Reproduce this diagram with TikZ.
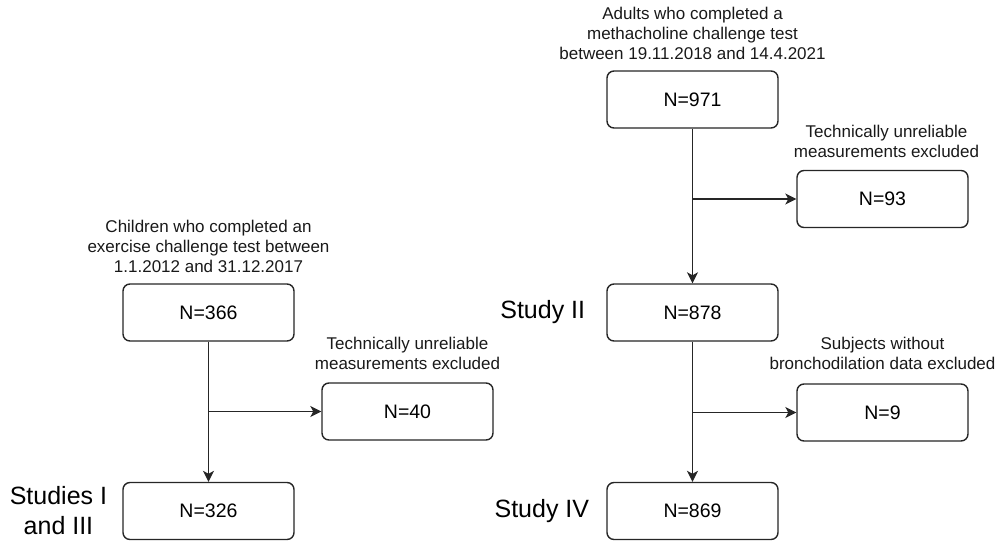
\documentclass[tikz,border=0pt]{standalone}
\usepackage{fontspec}
\setmainfont{Liberation Sans}
\usetikzlibrary{positioning,arrows.meta}

\begin{document}
\begin{tikzpicture}[x=1pt, y=-1pt,
  box/.style={draw=black!85, line width=1.4pt, rounded corners=7pt, fill=white,
    minimum width=171pt, minimum height=57pt, inner sep=0pt,
    font=\fontsize{19.5}{23}\selectfont},
  note/.style={align=center, inner sep=0pt, text=black!90, font=\fontsize{17}{20}\selectfont},
  study/.style={align=center, inner sep=0pt, font=\fontsize{25}{30}\selectfont},
  flow/.style={draw=black!85, line width=1.4pt, -{Stealth[length=11pt,width=11pt,inset=3pt]}}]
\useasboundingbox (0,0) rectangle (1001,541);

% exercise challenge (children)
\node[box] (n366) at (208.5,312.5) {N=366};
\node[box] (n40) at (407.5,411.5) {N=40};
\node[box] (n326) at (208.5,511) {N=326};
\node[note, above=10pt of n366] (capchildren) {Children who completed an\\exercise challenge test between\\1.1.2012 and 31.12.2017};
\node[note, above=12pt of n40] (capexcl1) {Technically unreliable\\measurements excluded};
\node[study, left=15pt of n326] (studyone) {Studies I\\and III};
\draw[flow] (n366) -- (n326);
\draw[flow] (n366 |- n40) -- (n40);

% methacholine challenge (adults)
\node[box] (n971) at (692.5,99.5) {N=971};
\node[box] (n93) at (882.5,199) {N=93};
\node[box] (n878) at (692.5,312.5) {N=878};
\node[box] (n9) at (882.5,412.5) {N=9};
\node[box] (n869) at (692.5,511) {N=869};
\node[note, above=10pt of n971] (capadults) {Adults who completed a\\methacholine challenge test\\between 19.11.2018 and 14.4.2021};
\node[note, above=12pt of n93, xshift=4pt] (capexcl2) {Technically unreliable\\measurements excluded};
\node[note, above=13pt of n9] (capexcl3) {Subjects without\\bronchodilation data excluded};
\node[study, left=21pt of n878] (studytwo) {Study II};
\node[study, left=17pt of n869] (studyfour) {Study IV};
\draw[flow] (n971) -- (n878);
\draw[flow] (n971 |- n93) -- (n93);
\draw[flow] (n878) -- (n869);
\draw[flow] (n878 |- n9) -- (n9);
\end{tikzpicture}
\end{document}
